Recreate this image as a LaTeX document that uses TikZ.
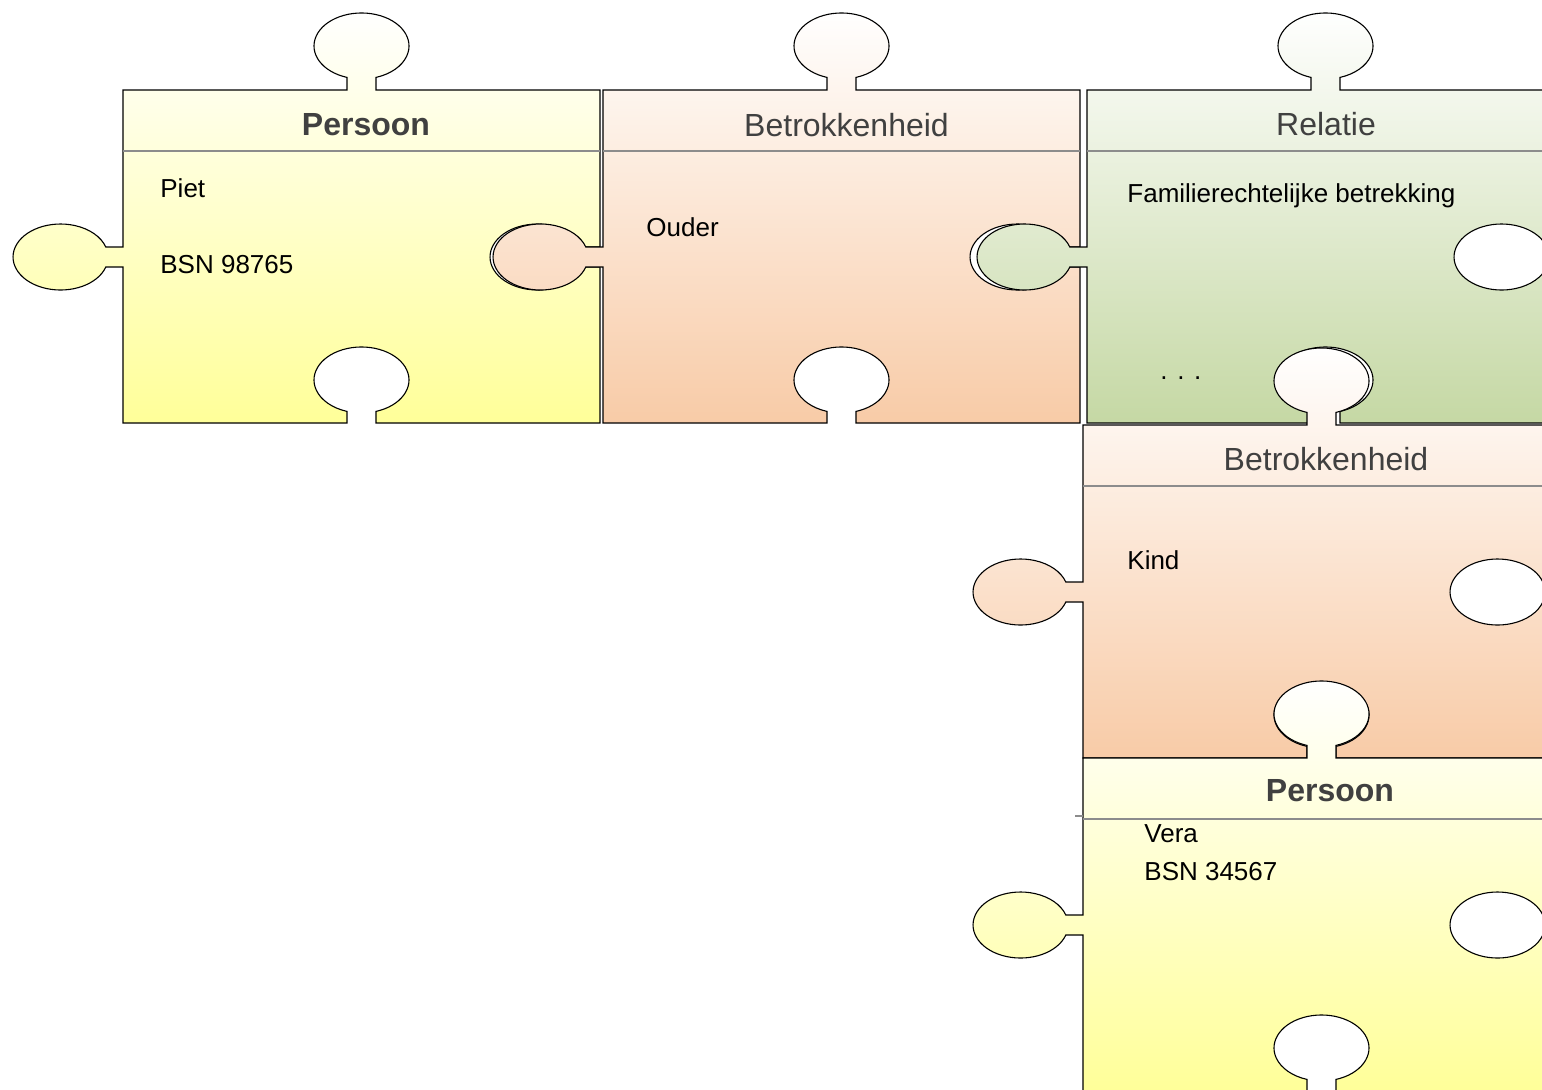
\documentclass[tikz,border=0pt]{standalone}
\usepackage{fontspec}
\setmainfont{Liberation Sans}
\usepackage{xcolor}
\usepackage{tikz}
\definecolor{persoonlicht}{HTML}{FFFFFF}
\definecolor{persoondonker}{HTML}{FFFF99}
\definecolor{betrlicht}{HTML}{FFFFFF}
\definecolor{betrdonker}{HTML}{F8CBA7}
\definecolor{relatielicht}{HTML}{FFFFFF}
\definecolor{relatiedonker}{HTML}{C5D8A4}
\tikzset{piece/.style={draw=black,line width=0.55pt},
  headline/.style={draw=black!45,line width=0.6pt},
  titel/.style={anchor=base,inner sep=0pt,text=black!75,font=\fontsize{16}{19}\selectfont},
  tekst/.style={anchor=base west,inner sep=0pt,font=\fontsize{13}{16}\selectfont}}
% one puzzle piece: #1 left x, #2 top y, #3 light colour, #4 dark colour
\newcommand{\puzzlepiece}[4]{%
  \pgfmathsetmacro{\pcx}{#1+238.5}
  \pgfmathsetmacro{\pr}{#1+477}
  \pgfmathsetmacro{\pb}{#2-333}
  \pgfmathsetmacro{\pmid}{#2-167}
  \draw[piece,top color=#3,bottom color=#4]
    (#1,#2) -- (\pcx-14.5,#2) -- ++(0,12.6)
    arc[start angle=252.22,end angle=-72.22,x radius=47.5,y radius=33]
    -- (\pcx+14.5,#2) -- (\pr,#2) -- (\pr,\pmid+10) -- ++(-17.2,0)
    arc[start angle=17.64,end angle=342.36,x radius=47.5,y radius=33]
    -- (\pr,\pmid-10) -- (\pr,\pb) -- (\pcx+14.5,\pb) -- ++(0,11.6)
    arc[start angle=-72.22,end angle=252.22,x radius=47.5,y radius=33]
    -- (\pcx-14.5,\pb) -- (#1,\pb) -- (#1,\pmid-10) -- ++(-17.2,0)
    arc[start angle=-17.64,end angle=-342.36,x radius=47.5,y radius=33]
    -- (#1,\pmid+10) -- cycle;
  \draw[headline] (#1,#2-61) -- (\pr,#2-61);
}
\begin{document}
\begin{tikzpicture}[x=0.5pt,y=0.5pt]
    \useasboundingbox (0,0) rectangle (1542,-1089);
    \clip (0,0) rectangle (1542,-1089);

    \puzzlepiece{123}{-90}{persoonlicht}{persoondonker}
    \puzzlepiece{603}{-90}{betrlicht}{betrdonker}
    \puzzlepiece{1087}{-90}{relatielicht}{relatiedonker}
    \puzzlepiece{1083}{-425}{betrlicht}{betrdonker}
    \puzzlepiece{1083}{-758}{persoonlicht}{persoondonker}
    \draw[headline] (1075,-816) -- (1083,-816);

    \node[titel] (persoon1) at (366,-135) {\bfseries Persoon};
    \node[titel] (betr1) at (846.5,-136) {Betrokkenheid};
    \node[titel] (relatie) at (1326,-135) {Relatie};
    \node[titel] (betr2) at (1326,-470) {Betrokkenheid};
    \node[titel] (persoon2) at (1330,-801) {\bfseries Persoon};

    \node[tekst] (piet) at (160,-197) {Piet};
    \node[tekst] (bsn1) at (160,-273) {BSN 98765};
    \node[tekst] (ouder) at (646,-236) {Ouder};
    \node[tekst] (familie) at (1127,-202) {Familierechtelijke betrekking};
    \node[tekst] (puntjes) at (1160,-379) {. . .};
    \node[tekst] (kind) at (1127,-569) {Kind};
    \node[tekst] (vera) at (1144,-842) {Vera};
    \node[tekst] (bsn2) at (1144,-880) {BSN 34567};
\end{tikzpicture}
\end{document}
